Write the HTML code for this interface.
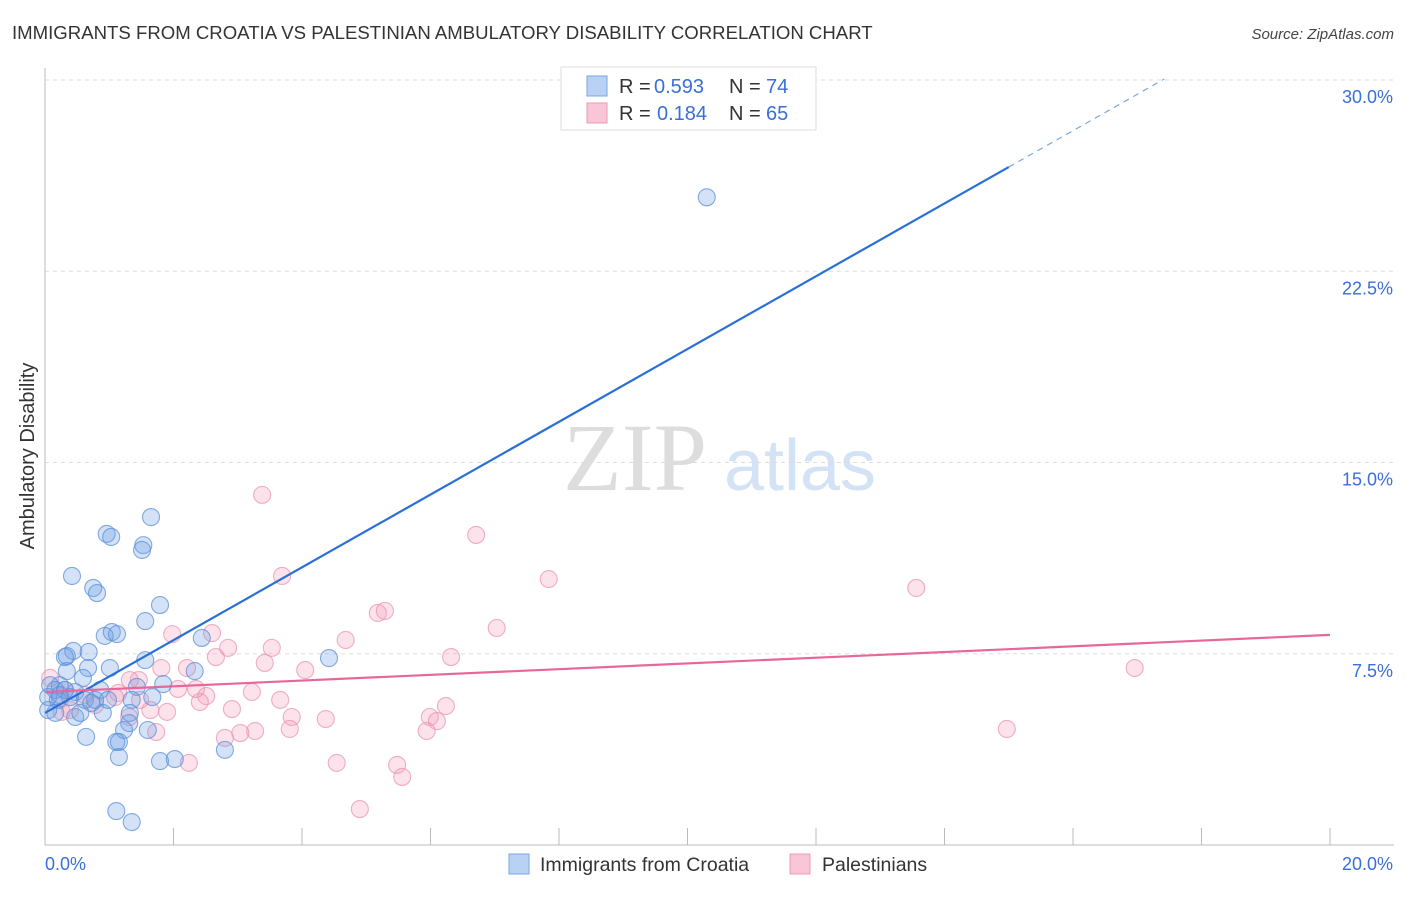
<!DOCTYPE html>
<html><head><meta charset="utf-8"><style>
body{margin:0;background:#fff;font-family:"Liberation Sans",sans-serif}
</style></head><body>
<svg id="chart" width="1406" height="892" xmlns="http://www.w3.org/2000/svg" style="font-family:'Liberation Sans',sans-serif">
<text x="12" y="39" font-size="18.6" fill="#333">IMMIGRANTS FROM CROATIA VS PALESTINIAN AMBULATORY DISABILITY CORRELATION CHART</text>
<text x="1394" y="39" font-size="15" fill="#444" text-anchor="end" font-style="italic">Source: ZipAtlas.com</text>
<text transform="translate(34,456) rotate(-90)" font-size="20" fill="#333" text-anchor="middle">Ambulatory Disability</text>
<g>
<text x="635" y="490" font-size="96" fill="#ddd" font-family="Liberation Serif" text-anchor="middle">ZIP</text>
<text x="800" y="490" font-size="72" fill="#d4e2f5" text-anchor="middle">atlas</text>
</g>
<g id="grid"></g><g id="axes"></g><g id="pts"></g><g id="lines"></g>
<g font-size="20">
<rect x="561" y="67" width="255" height="63" fill="#fff" stroke="#ddd"/>
<rect x="587" y="76" width="20" height="20" fill="#b9d2f4" stroke="#7aa6e2"/>
<text x="619" y="93" fill="#333">R =</text><text x="654" y="93" fill="#3a6fd8">0.593</text>
<text x="729" y="93" fill="#333">N =</text><text x="766" y="93" fill="#3a6fd8">74</text>
<rect x="587" y="103" width="20" height="20" fill="#f8c6d6" stroke="#eb9ab4"/>
<text x="619" y="120" fill="#333">R =</text><text x="657" y="120" fill="#3a6fd8">0.184</text>
<text x="729" y="120" fill="#333">N =</text><text x="766" y="120" fill="#3a6fd8">65</text>
</g>
<g>
<rect x="509" y="854" width="20" height="20" fill="#b9d2f4" stroke="#7aa6e2"/>
<text x="540" y="871" font-size="19.5" fill="#333">Immigrants from Croatia</text>
<rect x="790" y="854" width="20" height="20" fill="#f8c6d6" stroke="#eb9ab4"/>
<text x="822" y="871" font-size="19.5" fill="#333">Palestinians</text>
</g>
</svg>
<script>
const blueX=[10.3,1.65,0.96,1.03,1.53,1.51,0.42,0.75,0.81,1.79,1.56,0.93,1.04,1.12,2.44,0.44,0.31,0.34,0.68,1.56,4.42,1.01,0.67,0.34,2.33,0.59,0.23,0.08,0.16,0.31,0.47,0.86,1.43,1.84,1.67,0.05,0.2,0.39,0.62,0.78,1.35,0.05,0.47,0.9,1.32,0.55,0.16,0.72,0.98,0.23,1.31,1.23,1.6,0.64,1.11,1.15,2.8,1.15,1.79,2.02,1.11,1.35];
const blueY=[25.4,12.86,12.2,12.08,11.76,11.57,10.55,10.08,9.88,9.41,8.78,8.2,8.35,8.27,8.12,7.61,7.37,7.41,7.57,7.25,7.33,6.94,6.94,6.82,6.82,6.55,6.27,6.27,6.08,6.08,6.0,6.08,6.2,6.31,5.8,5.8,5.69,5.8,5.69,5.69,5.69,5.29,5.02,5.18,5.18,5.18,5.18,5.57,5.69,5.88,4.78,4.51,4.51,4.24,4.04,4.04,3.73,3.45,3.29,3.37,1.33,0.9];
const pinkX=[3.38,6.71,3.69,7.84,13.56,5.18,5.29,7.03,4.68,1.98,2.6,2.85,3.53,6.32,2.66,3.42,4.05,2.21,1.81,16.96,1.46,0.08,2.07,2.35,2.51,3.22,3.66,1.14,1.32,2.41,6.24,2.91,1.9,1.64,1.31,3.84,4.37,5.99,6.1,5.94,3.81,14.97,1.73,3.27,3.04,2.8,2.24,4.54,5.48,5.56,4.9,0.23,0.39,0.78,0.31,0.62,1.09,1.48,0.26];
const pinkY=[13.73,12.16,10.55,10.43,10.08,9.1,9.18,8.51,8.04,8.27,8.31,7.73,7.73,7.37,7.37,7.14,6.86,6.94,6.94,6.94,6.47,6.55,6.12,6.12,5.84,6.0,5.69,5.96,6.47,5.61,5.45,5.33,5.22,5.29,5.02,5.02,4.94,5.02,4.86,4.47,4.55,4.55,4.43,4.47,4.39,4.2,3.22,3.22,3.14,2.67,1.41,5.69,5.29,5.49,6.08,5.88,5.8,5.69,5.22];
const blueTrend=[5.18,1.427];
const pinkTrend=[6.0,0.112];
const yTicks=[7.5,15,22.5,30];
const yTickLabels=["7.5%","15.0%","22.5%","30.0%"];
const xTicks=[2,4,6,8,10,12,14,16,18,20];
const NS="http://www.w3.org/2000/svg";
const sx=v=>45+v*64.25, sy=v=>845-v*25.5;
function mk(t,a,p){const e=document.createElementNS(NS,t);for(const k in a)e.setAttribute(k,a[k]);document.getElementById(p).appendChild(e);return e;}
yTicks.forEach((t,i)=>{
 const g=mk('line',{x1:45,x2:1394,y1:sy(t),y2:sy(t),stroke:'#ddd','stroke-dasharray':'4,4'},'grid');
 
 
 const l=mk('text',{x:1393,y:sy(t)+23,'font-size':18,fill:'#3a6fd8','text-anchor':'end'},'axes');
 l.textContent=yTickLabels[i];
 
 
});
const ax=mk('line',{x1:45,x2:45,y1:68,y2:845,stroke:'#bbb'},'axes');


const bx=mk('line',{x1:45,x2:1394,y1:845,y2:845,stroke:'#bbb'},'axes');


xTicks.forEach(t=>{
 const k=mk('line',{x1:sx(t),x2:sx(t),y1:828,y2:845,stroke:'#bbb'},'axes');
 
 
});
const x0=mk('text',{x:45,y:870,'font-size':18,fill:'#3a6fd8'},'axes');x0.textContent='0.0%';


const x1=mk('text',{x:1393,y:870,'font-size':18,fill:'#3a6fd8','text-anchor':'end'},'axes');x1.textContent='20.0%';


function pts(X,Y,f,s,n){X.forEach((x,i)=>{const c=mk('circle',{cx:sx(x),cy:sy(Y[i]),r:8.5,fill:f,stroke:s,'stroke-width':1.1,'stroke-opacity':0.75},'pts');
 
 });}
pts(pinkX,pinkY,'rgba(244,160,190,0.3)','#e896b0','palestinian-point');
pts(blueX,blueY,'rgba(110,160,230,0.3)','#5b8fd9','croatia-point');
const bl=mk('line',{x1:sx(0),y1:sy(blueTrend[0]),x2:sx(15),y2:sy(blueTrend[0]+15*blueTrend[1]),stroke:'#2a6fd6','stroke-width':2.2},'lines');


const bd=mk('line',{x1:sx(15),y1:sy(blueTrend[0]+15*blueTrend[1]),x2:sx(17.42),y2:sy(blueTrend[0]+17.42*blueTrend[1]),stroke:'#7aa6e2','stroke-width':1.2,'stroke-dasharray':'6,5'},'lines');


const pl=mk('line',{x1:sx(0),y1:sy(pinkTrend[0]),x2:sx(20),y2:sy(pinkTrend[0]+20*pinkTrend[1]),stroke:'#e8679a','stroke-width':2.2},'lines');


</script>
</body></html>
